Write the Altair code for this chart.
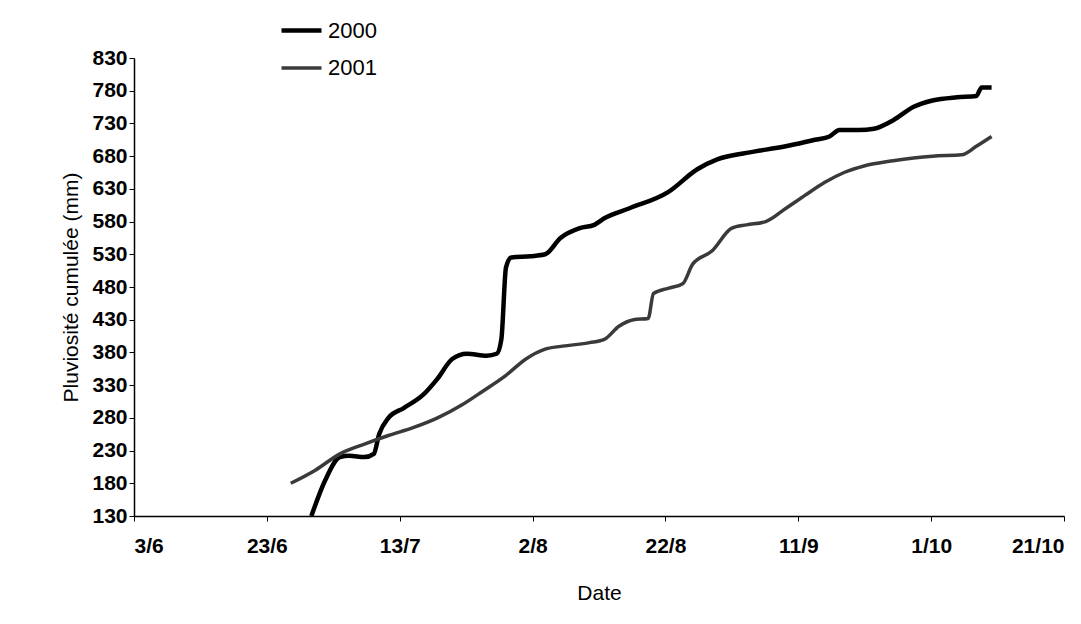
import pandas as pd
import altair as alt

# day offsets from 3 June, cumulative rainfall (mm)
days_2000 = [26.7, 28.8, 31.0, 32.4, 34.7, 36.1, 36.9, 38.3, 40.6, 43.5, 45.7, 47.9, 50.1, 53.1,
             54.6, 55.3, 56.0, 56.8, 59.7, 61.9, 64.2, 67.1, 69.3, 70.8, 74.5, 80.4, 84.8, 87.8,
             92.2, 98.1, 102.5, 104.7, 106.2, 109.1, 111.4, 114.3, 117.3, 120.2, 123.9, 126.8,
             127.6, 129.1]
rain_2000 = [130, 185, 220, 222, 220, 225, 255, 280, 295, 315, 340, 370, 378, 375,
             378, 400, 510, 525, 527, 530, 555, 570, 575, 585, 600, 625, 660, 675,
             685, 695, 705, 710, 720, 720, 722, 735, 755, 765, 770, 772,
             785, 785]
days_2001 = [23.6, 27.3, 31.0, 34.7, 38.3, 42.0, 45.7, 49.4, 52.4, 56.0, 59.0, 61.9, 64.9, 68.6,
             70.8, 73.0, 75.2, 77.4, 78.2, 80.4, 82.6, 84.1, 87.0, 90.0, 92.2, 95.1, 98.1, 101.0,
             104.0, 106.9, 109.9, 114.3, 120.2, 124.6, 126.8, 129.1]
rain_2001 = [180, 200, 225, 240, 253, 265, 280, 300, 320, 345, 370, 385, 390, 395,
             400, 420, 430, 432, 470, 478, 485, 515, 535, 570, 575, 580, 600, 620,
             640, 655, 665, 673, 680, 682, 695, 710]
y_ticks = list(range(130, 831, 50))

base = pd.Timestamp("2000-06-03")
rows = []
for d, v in zip(days_2000, rain_2000):
    rows.append({"date": base + pd.Timedelta(days=d), "rain": v, "year": "2000"})
for d, v in zip(days_2001, rain_2001):
    rows.append({"date": base + pd.Timedelta(days=d), "rain": v, "year": "2001"})
df = pd.DataFrame(rows)

tick_dates = [alt.DateTime(year=2000, month=m, date=d)
              for m, d in [(6, 3), (6, 23), (7, 13), (8, 2), (8, 22), (9, 11), (10, 1), (10, 21)]]

font = "Liberation Sans"
chart = alt.Chart(df).mark_line(interpolate="monotone").encode(
    x=alt.X("date:T", title="Date",
            scale=alt.Scale(domain=[alt.DateTime(year=2000, month=6, date=3),
                                    alt.DateTime(year=2000, month=10, date=21)]),
            axis=alt.Axis(values=tick_dates, format="%-d/%-m", labelPadding=14,
                          tickSize=5, titlePadding=26)),
    y=alt.Y("rain:Q", title="Pluviosité cumulée (mm)",
            scale=alt.Scale(domain=[130, 830], nice=False),
            axis=alt.Axis(values=y_ticks, tickSize=5, titlePadding=10)),
    color=alt.Color("year:N", scale=alt.Scale(domain=["2000", "2001"], range=["#000000", "#3a3a3a"]),
                    legend=alt.Legend(title=None, orient="none", legendX=145, legendY=-50,
                                      symbolType="stroke", symbolSize=1600, symbolStrokeWidth=5,
                                      labelFontSize=22, labelFont=font, rowPadding=4)),
    strokeWidth=alt.StrokeWidth("year:N", scale=alt.Scale(domain=["2000", "2001"], range=[4.5, 3.5]),
                                legend=None),
).properties(
    width=930, height=458, padding={"left": 52, "top": 0, "right": 0, "bottom": 0}
).configure_axis(
    grid=False, domainColor="black", tickColor="black", labelColor="black", titleColor="black",
    labelFont=font, titleFont=font, labelFontSize=21, titleFontSize=21,
    labelFontWeight="bold", titleFontWeight="normal", domainWidth=1.5
).configure_view(stroke=None)

chart.save("out.html", embed_options={"renderer": "svg", "actions": False})
